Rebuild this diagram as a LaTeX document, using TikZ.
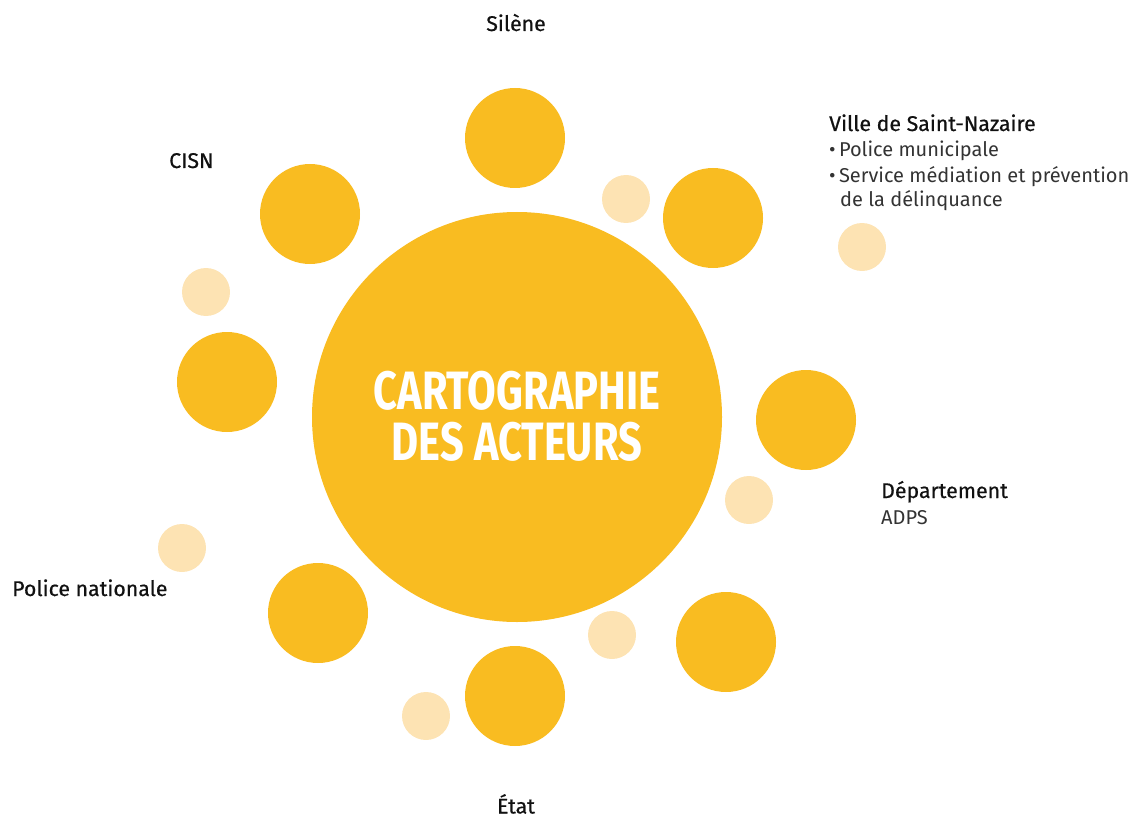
\documentclass[tikz,border=0pt]{standalone}
\usepackage{fontspec}
\setmainfont{Fira Sans}
\newfontfamily\titlefont[FakeStretch=0.77]{Fira Sans}
\newfontfamily\headfont[FakeBold=0.6]{Fira Sans}
\definecolor{sun}{HTML}{F9BC21}
\definecolor{pale}{HTML}{FDE3B3}
\definecolor{ink}{HTML}{111111}
\definecolor{soft}{HTML}{333333}
\tikzset{
  bigdot/.style={circle, fill=sun, draw=none, minimum size=100pt, inner sep=0pt},
  smalldot/.style={circle, fill=pale, draw=none, minimum size=48pt, inner sep=0pt},
  head/.style={anchor=base west, inner sep=0pt, text=ink, font=\headfont\fontsize{21.3}{25}\selectfont},
  headc/.style={anchor=base, inner sep=0pt, text=ink, font=\headfont\fontsize{21.3}{25}\selectfont},
  body/.style={anchor=base west, inner sep=0pt, text=soft, font=\fontsize{20}{24}\selectfont},
  titletext/.style={anchor=base, inner sep=0pt, text=white, font=\titlefont\bfseries\fontsize{54}{54}\selectfont},
}
\begin{document}
\begin{tikzpicture}[x=1pt,y=-1pt]
\useasboundingbox (0,0) rectangle (1139,818);
% central circle
\node[circle, fill=sun, minimum size=410pt, inner sep=0pt] (core) at (517,417) {};
\node[titletext] (t1) at (517,409) {CARTOGRAPHIE};
\node[titletext] (t2) at (517,460) {DES ACTEURS};
% big satellites
\node[bigdot] (silene) at (515,138) {};
\node[bigdot] (cisn) at (310,214) {};
\node[bigdot] (left) at (227,382) {};
\node[bigdot] (bl) at (318,613) {};
\node[bigdot] (bottom) at (515,696) {};
\node[bigdot] (br) at (726,642) {};
\node[bigdot] (right) at (806,420) {};
\node[bigdot] (tr) at (713,218) {};
% small satellites
\node[smalldot] (s1) at (626,199) {};
\node[smalldot] (s2) at (862,247) {};
\node[smalldot] (s3) at (206,292) {};
\node[smalldot] (s4) at (182,548) {};
\node[smalldot] (s5) at (749,500) {};
\node[smalldot] (s6) at (612,635) {};
\node[smalldot] (s7) at (426,716) {};
% labels
\node[headc] (lsilene) at (516,31) {Silène};
\node[head] (lcisn) at (169,168) {CISN};
\node[head] (lville) at (829,131) {Ville de Saint-Nazaire};
\node[body] (lpm) at (829,157) {\textbullet\,Police municipale};
\node[body] (lsm) at (829,183) {\textbullet\,Service médiation et prévention};
\node[body] (ldl) at (840,207) {de la délinquance};
\node[head] (ldep) at (881,498) {Département};
\node[body] (ladps) at (881,524) {ADPS};
\node[head] (lpn) at (12,596) {Police nationale};
\node[headc] (letat) at (516,813.5) {État};
\end{tikzpicture}
\end{document}
